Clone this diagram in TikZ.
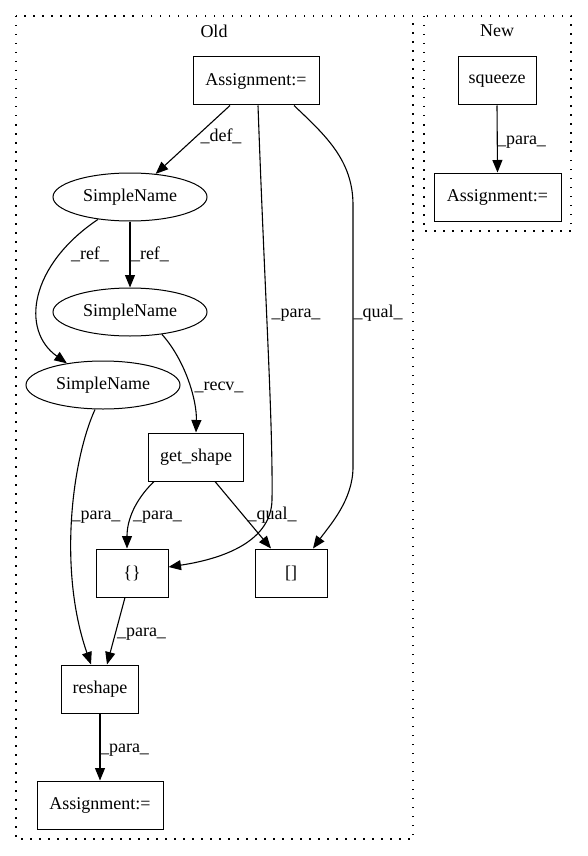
\documentclass[tikz,border=0pt]{standalone}
\usepackage{fontspec}
\setmainfont{Liberation Serif}
\usetikzlibrary{arrows.meta,shapes.geometric}
\begin{document}
\begin{tikzpicture}[x=1pt,y=-1pt,
  every node/.style={font=\fontsize{18}{21}\selectfont},
  box/.style={draw,line width=1pt,rectangle,minimum height=48pt,inner sep=0pt},
  oval/.style={draw,line width=1pt,ellipse,minimum width=154pt,minimum height=48pt,inner sep=0pt},
  cluster/.style={draw,line width=1.2pt,dash pattern=on 1.5pt off 7.5pt},
  edge/.style={draw,line width=1.1pt,-{Triangle[length=12.5pt,width=10pt]}},
  lbl/.style={inner sep=0pt,text height=12pt,text depth=4pt}]
\useasboundingbox (0,0) rectangle (587,856);
% clusters
\draw[cluster] (16,16) rectangle (413,839);
\draw[cluster] (424,16) rectangle (571,231);
\node (oldlbl) at (214,31) {Old};
\node (newlbl) at (497,31) {New};
% nodes
\node[box,minimum width=126pt] (A1) at (256,81) {Assignment:=};
\node[box,minimum width=78pt] (SQ) at (497,81) {squeeze};
\node[box,minimum width=127pt] (A2) at (497.5,197) {Assignment:=};
\node[oval] (SN1) at (130,197) {SimpleName};
\node[oval] (SN2) at (130,312) {SimpleName};
\node[oval] (SN3) at (103,385) {SimpleName};
\node[box,minimum width=95pt] (GS) at (196,457) {get\_shape};
\node[box,minimum width=72pt] (BR) at (132,573) {\{\}};
\node[box,minimum width=72pt] (SB) at (291,573) {[]};
\node[box,minimum width=77pt] (RS) at (100,689) {reshape};
\node[box,minimum width=126pt] (A3) at (100,805) {Assignment:=};
% edges
\draw[edge] ([xshift=-26pt]A1.south) -- (SN1.42);
\node[lbl] (l1) at (221,138) {\_def\_};
\draw[edge] (SN1.south) -- (SN2.north);
\node[lbl] (l2) at (150,255) {\_ref\_};
\draw[edge] (SN1.215) .. controls (30,265) and (20,330) .. (SN3.149);
\node[lbl] (l3) at (90,255) {\_ref\_};
\draw[edge] (SN2.-35) .. controls (185,360) and (197,400) .. (GS.north);
\node[lbl] (l4) at (219,386) {\_recv\_};
\draw[edge] ([xshift=-8pt]SN3.south) .. controls (72,460) and (58,570) .. ([xshift=-9pt]RS.north);
\node[lbl] (l5) at (96,515) {\_para\_};
\draw[edge] ([xshift=-42pt]GS.south) .. controls (135,500) and (127,520) .. ([xshift=-5pt]BR.north);
\node[lbl] (l6) at (157.5,515) {\_para\_};
\draw[edge] ([xshift=19pt]GS.south) -- ([xshift=-20pt]SB.north);
\node[lbl] (l7) at (272,515) {\_qual\_};
\draw[edge] ([xshift=2pt]A1.south) .. controls (265,300) and (273,420) .. (272,500)
  .. controls (271,545) and (215,560) .. ([yshift=6pt]BR.east);
\node[lbl] (l8) at (296,313) {\_para\_};
\draw[edge] ([xshift=38pt]A1.south) .. controls (325,135) and (353,160) .. (353,205)
  -- (353,467) .. controls (353,500) and (330,525) .. ([xshift=22pt]SB.north);
\node[lbl] (l9) at (378,313) {\_qual\_};
\draw[edge] ([xshift=-7pt]BR.south) -- ([xshift=7pt]RS.north);
\node[lbl] (l10) at (141.5,632) {\_para\_};
\draw[edge] (RS.south) -- (A3.north);
\node[lbl] (l11) at (124.5,748) {\_para\_};
\draw[edge] (SQ.south) -- (A2.north);
\node[lbl] (l12) at (521.5,140) {\_para\_};
\end{tikzpicture}
\end{document}
